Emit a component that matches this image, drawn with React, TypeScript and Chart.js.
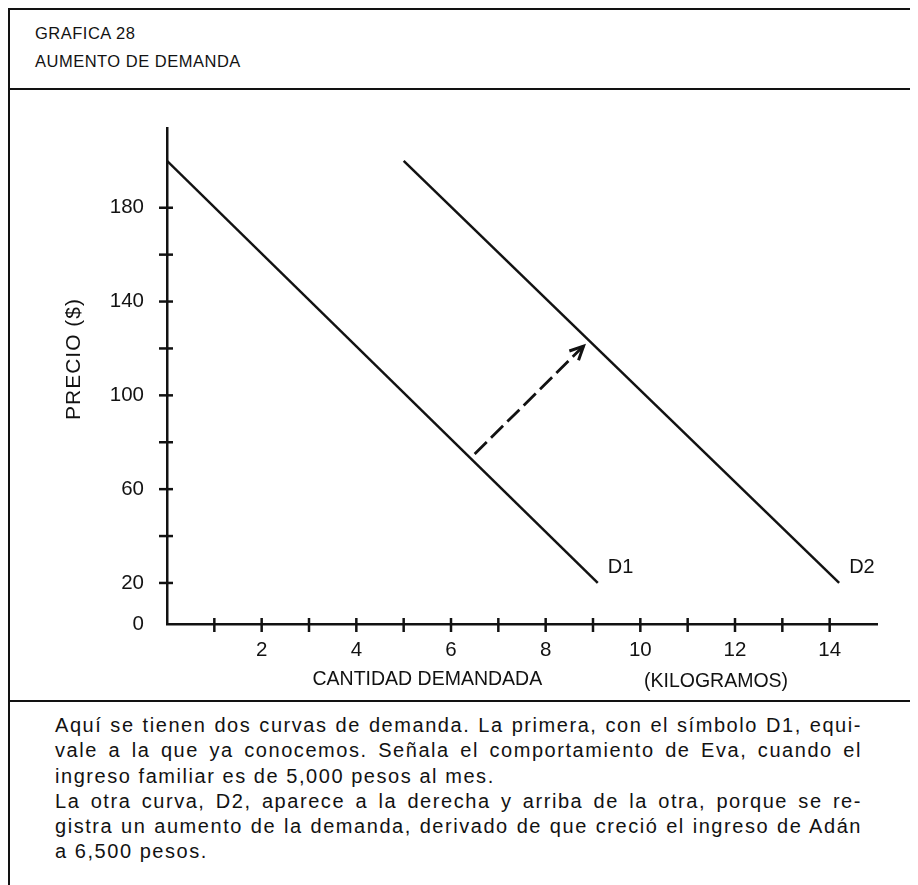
import { useEffect, useRef } from 'react';
import { Chart, registerables } from 'chart.js';

Chart.register(...registerables);

// ---- data ----
const d1Quantity = [0, 9.1];
const d1Price = [200, 20];
const d2Quantity = [5, 14.2];
const d2Price = [200, 20];
const shiftQuantity = [6.5, 8.8];
const shiftPrice = [75, 121];
const curveNames = ['D1', 'D2'];

// the printed axis is not to scale near the origin: the corner sits a little below 20 and is labelled "0"
const yAxisStart = 2.5;
const yTickValues = [20, 40, 60, 80, 100, 120, 140, 160, 180];
const yLabeledTicks = [20, 60, 100, 140, 180];
const yOriginLabel = '0';
const xTickValues = [1, 2, 3, 4, 5, 6, 7, 8, 9, 10, 11, 12, 13, 14];
const xLabeledTicks = [2, 4, 6, 8, 10, 12, 14];
const xRange = [0, 15];
const yMax = 214;

const headerLines = ['GRAFICA 28', 'AUMENTO DE DEMANDA'];
const yAxisTitle = 'PRECIO ($)';
const xAxisTitle = 'CANTIDAD DEMANDADA';
const xAxisUnit = '(KILOGRAMOS)';
const captionLines = [
  { text: 'Aquí se tienen dos curvas de demanda. La primera, con el símbolo D1, equi-', justify: true },
  { text: 'vale a la que ya conocemos. Señala el comportamiento de Eva, cuando el', justify: true },
  { text: 'ingreso familiar es de 5,000 pesos al mes.', justify: false },
  { text: 'La otra curva, D2, aparece a la derecha y arriba de la otra, porque se re-', justify: true },
  { text: 'gistra un aumento de la demanda, derivado de que creció el ingreso de Adán', justify: true },
  { text: 'a 6,500 pesos.', justify: false },
];

const INK = '#121212';
const FONT = '"Liberation Sans", Arial, Helvetica, sans-serif';

const toPoints = (xs: number[], ys: number[]) => xs.map((x, i) => ({ x, y: ys[i] }));

const decorPlugin = {
  id: 'decor',
  afterDraw(chart: any) {
    const { ctx, chartArea, scales } = chart;
    const xs = scales.x;
    const ys = scales.y;
    ctx.save();
    ctx.strokeStyle = INK;
    ctx.lineWidth = 2.5;
    ctx.lineCap = 'butt';
    // crossing tick marks on y axis
    yTickValues.forEach((v) => {
      const py = ys.getPixelForValue(v);
      ctx.beginPath();
      ctx.moveTo(chartArea.left - 8, py);
      ctx.lineTo(chartArea.left + 6, py);
      ctx.stroke();
    });
    // crossing tick marks on x axis
    xTickValues.forEach((v) => {
      const px = xs.getPixelForValue(v);
      ctx.beginPath();
      ctx.moveTo(px, chartArea.bottom - 6);
      ctx.lineTo(px, chartArea.bottom + 8);
      ctx.stroke();
    });
    // arrow head for the shift
    const meta = chart.getDatasetMeta(2);
    const p0 = meta.data[0];
    const p1 = meta.data[meta.data.length - 1];
    const ang = Math.atan2(p1.y - p0.y, p1.x - p0.x);
    const L = 15;
    ctx.lineWidth = 3;
    ctx.beginPath();
    ctx.moveTo(p1.x - L * Math.cos(ang - 0.45), p1.y - L * Math.sin(ang - 0.45));
    ctx.lineTo(p1.x, p1.y);
    ctx.lineTo(p1.x - L * Math.cos(ang + 0.45), p1.y - L * Math.sin(ang + 0.45));
    ctx.stroke();
    // curve labels
    ctx.fillStyle = INK;
    ctx.font = `20px ${FONT}`;
    ctx.textAlign = 'left';
    ctx.textBaseline = 'middle';
    [0, 1].forEach((di) => {
      const m = chart.getDatasetMeta(di);
      const last = m.data[m.data.length - 1];
      ctx.fillText(curveNames[di], last.x + 10, last.y - 15);
    });
    // axis titles
    ctx.textAlign = 'center';
    ctx.save();
    ctx.font = `21px ${FONT}`;
    ctx.translate(chartArea.left - 93, (chartArea.top + chartArea.bottom) / 2 - 17);
    ctx.rotate(-Math.PI / 2);
    (ctx as any).letterSpacing = '1px';
    ctx.fillText(yAxisTitle, 0, 0);
    ctx.restore();
    ctx.font = `19.5px ${FONT}`;
    const ty = chartArea.bottom + 56;
    ctx.fillText(xAxisTitle, xs.getPixelForValue(5.5), ty);
    ctx.fillText(xAxisUnit, xs.getPixelForValue(11.6), ty + 2);
    ctx.restore();
  },
};

function DemandChart() {
  const ref = useRef<HTMLCanvasElement | null>(null);
  useEffect(() => {
    if (!ref.current) return;
    const line = { showLine: true, pointRadius: 0, borderColor: INK, backgroundColor: INK, borderWidth: 2.5, fill: false, tension: 0 };
    const chart = new Chart(ref.current, {
      type: 'scatter',
      data: {
        datasets: [
          { label: curveNames[0], data: toPoints(d1Quantity, d1Price), ...line },
          { label: curveNames[1], data: toPoints(d2Quantity, d2Price), ...line },
          { label: 'aumento', data: toPoints(shiftQuantity, shiftPrice), ...line, borderWidth: 2.8, borderDash: [17, 6] },
        ],
      },
      options: {
        animation: false,
        responsive: false,
        maintainAspectRatio: false,
        devicePixelRatio: 1,
        layout: { padding: { top: 38, right: 41, left: 0, bottom: 0 } },
        plugins: { legend: { display: false }, tooltip: { enabled: false }, title: { display: false } },
        scales: {
          x: {
            type: 'linear',
            min: xRange[0],
            max: xRange[1],
            afterFit: (s: any) => { s.height = 76; },
            afterBuildTicks: (s: any) => { s.ticks = xTickValues.map((v) => ({ value: v })); },
            grid: { display: true, drawOnChartArea: false, drawTicks: false, color: 'rgba(0,0,0,0)' },
            border: { display: true, color: INK, width: 2.5 },
            ticks: {
              autoSkip: false,
              maxRotation: 0,
              padding: 14,
              color: INK,
              font: { family: FONT, size: 20.5 },
              callback: (v: any) => (xLabeledTicks.includes(Number(v)) ? String(v) : ''),
            },
          },
          y: {
            type: 'linear',
            min: yAxisStart,
            max: yMax,
            afterFit: (s: any) => { s.width = 157; },
            afterBuildTicks: (s: any) => { s.ticks = [yAxisStart, ...yTickValues].map((v) => ({ value: v })); },
            grid: { display: true, drawOnChartArea: false, drawTicks: false, color: 'rgba(0,0,0,0)' },
            border: { display: true, color: INK, width: 2.5 },
            ticks: {
              autoSkip: false,
              padding: 23,
              color: INK,
              font: { family: FONT, size: 20.5 },
              callback: (v: any) => {
                const n = Number(v);
                if (n === yAxisStart) return yOriginLabel;
                return yLabeledTicks.includes(n) ? String(n) : '';
              },
            },
          },
        },
      },
      plugins: [decorPlugin],
    } as any);
    return () => chart.destroy();
  }, []);
  return <canvas ref={ref} width={908} height={610} style={{ display: 'block', width: 908, height: 610 }} />;
}

export default function App() {
  useEffect(() => {
    document.documentElement.style.overflow = 'hidden';
    document.body.style.overflow = 'hidden';
  }, []);
  return (
    <div
      style={{
        width: 910,
        height: 877,
        boxSizing: 'border-box',
        borderTop: `2px solid ${INK}`,
        borderLeft: `2px solid ${INK}`,
        overflow: 'hidden',
        fontFamily: FONT,
        color: INK,
        background: '#fff',
      }}
    >
      <div style={{ height: 78, borderBottom: `2px solid ${INK}`, boxSizing: 'content-box', paddingLeft: 25 }}>
        <div style={{ paddingTop: 9 }}>
          {headerLines.map((t) => (
            <div key={t} style={{ fontSize: 16.5, lineHeight: '28px', letterSpacing: 0.5 }}>{t}</div>
          ))}
        </div>
      </div>
      <div style={{ height: 610, borderBottom: `2px solid ${INK}` }}>
        <DemandChart />
      </div>
      <div style={{ paddingTop: 11, paddingLeft: 45, width: 807 }}>
        {captionLines.map((l, i) => (
          <div
            key={i}
            style={{
              fontSize: 20,
              lineHeight: '25.3px',
              letterSpacing: 1.55,
              whiteSpace: 'nowrap',
              textAlign: l.justify ? 'justify' : 'left',
              textAlignLast: l.justify ? 'justify' : 'left',
            }}
          >
            {l.text}
          </div>
        ))}
      </div>
    </div>
  );
}
